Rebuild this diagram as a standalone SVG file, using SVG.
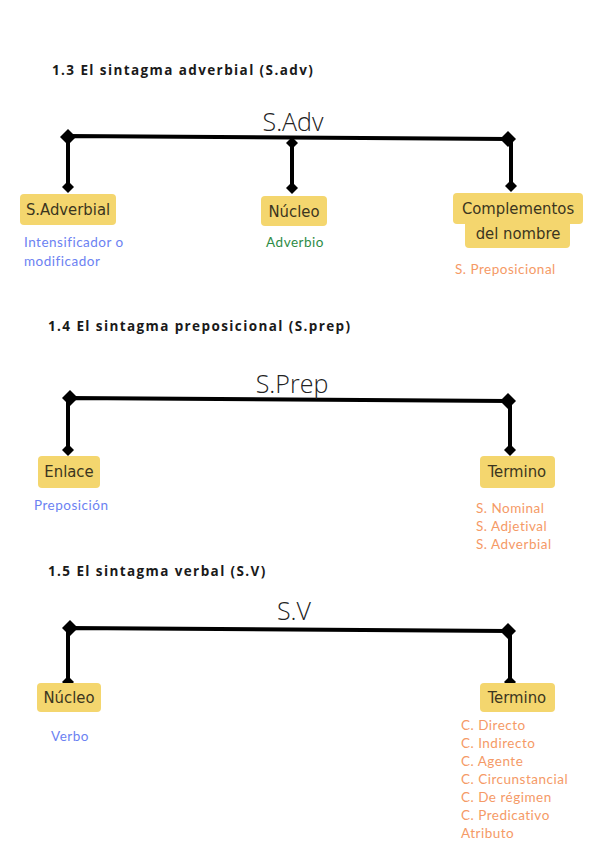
<svg xmlns="http://www.w3.org/2000/svg" width="600" height="848" viewBox="0 0 600 848">
<style>
.title{font-family:"Open Sans",Lato,sans-serif;font-weight:bold;font-size:13.5px;letter-spacing:1.4px;fill:#1a1a1a}
.head{font-family:"Open Sans",Lato,sans-serif;font-weight:300;font-size:25px;fill:#222;text-anchor:middle}
.box{fill:#F4D66E}
.bt{font-family:"DejaVu Sans Condensed","Open Sans",sans-serif;font-size:16.5px;fill:#3b3520;text-anchor:middle}
.blue{font-family:Lato,"Noto Sans",sans-serif;font-size:13.5px;fill:#6C82F2;letter-spacing:0.5px}
.green{font-family:Lato,"Noto Sans",sans-serif;font-size:13.5px;fill:#2E8B45;letter-spacing:0.5px}
.orange{font-family:Lato,"Noto Sans",sans-serif;font-size:13.5px;fill:#F59A66;letter-spacing:0.5px}
.ln{stroke:#000;stroke-width:4;fill:none}
</style>
<defs>
<polygon id="dl" points="0,-8 8,0 0,8 -8,0" fill="#000"/>
<polygon id="ds" points="0,-6 6,0 0,6 -6,0" fill="#000"/>
</defs>

<text class="title" x="52" y="75">1.3 El sintagma adverbial (S.adv)</text>
<text class="title" x="48" y="331">1.4 El sintagma preposicional (S.prep)</text>
<text class="title" x="48" y="576">1.5 El sintagma verbal (S.V)</text>

<g id="connectors">
<!-- S.Adv -->
<path class="ln" d="M68,136 L508,139 M68,137 V187 M292,143 V188 M511,139 V186"/>
<use href="#dl" x="68" y="137"/>
<use href="#ds" x="292" y="143"/>
<use href="#dl" x="508" y="139"/>
<use href="#ds" x="68" y="187"/>
<use href="#ds" x="292" y="188"/>
<use href="#ds" x="511" y="186"/>
<!-- S.Prep -->
<path class="ln" d="M70,398 L508,401 M68,398 V450 M510,401 V450"/>
<use href="#dl" x="70" y="398"/>
<use href="#dl" x="508" y="401"/>
<use href="#ds" x="68" y="450"/>
<use href="#ds" x="510" y="450"/>
<!-- S.V -->
<path class="ln" d="M70,628 L508,631 M68,628 V682 M510,631 V682"/>
<use href="#dl" x="70" y="628"/>
<use href="#dl" x="508" y="631"/>
<use href="#ds" x="68" y="682"/>
<use href="#ds" x="510" y="682"/>
</g>

<g id="sadv">
<text class="head" x="293" y="131">S.Adv</text>
</g>
<g id="sadverbial">
<rect class="box" x="20" y="194" width="96" height="31" rx="4"/>
<text class="bt" x="68" y="215">S.Adverbial</text>
<text class="blue" x="24" y="247">Intensificador o</text>
<text class="blue" x="24" y="266">modificador</text>
</g>
<g id="nucleo1">
<rect class="box" x="261" y="196" width="66" height="30" rx="4"/>
<text class="bt" x="294" y="217">Núcleo</text>
<text class="green" x="295" y="247" text-anchor="middle">Adverbio</text>
</g>
<g id="complementos">
<rect class="box" x="453" y="193" width="130" height="31" rx="4"/>
<rect class="box" x="465" y="218" width="105" height="30" rx="4"/>
<text class="bt" x="518" y="214">Complementos</text>
<text class="bt" x="518" y="239">del nombre</text>
<text class="orange" x="455" y="274">S. Preposicional</text>
</g>

<g id="sprep">
<text class="head" x="292" y="393">S.Prep</text>
</g>
<g id="enlace">
<rect class="box" x="38" y="456" width="62" height="32" rx="4"/>
<text class="bt" x="69" y="477">Enlace</text>
<text class="blue" x="34" y="510">Preposición</text>
</g>
<g id="termino1">
<rect class="box" x="480" y="456" width="75" height="32" rx="4"/>
<text class="bt" x="517" y="477">Termino</text>
<text class="orange" x="476" y="513">S. Nominal</text>
<text class="orange" x="476" y="531">S. Adjetival</text>
<text class="orange" x="476" y="549">S. Adverbial</text>
</g>

<g id="sv">
<text class="head" x="294" y="620">S.V</text>
</g>
<g id="nucleo2">
<rect class="box" x="37" y="683" width="64" height="29" rx="4"/>
<text class="bt" x="69" y="703">Núcleo</text>
<text class="blue" x="70" y="741" text-anchor="middle">Verbo</text>
</g>
<g id="termino2">
<rect class="box" x="480" y="683" width="75" height="29" rx="4"/>
<text class="bt" x="517" y="703">Termino</text>
<text class="orange" x="461" y="730">C. Directo</text>
<text class="orange" x="461" y="748">C. Indirecto</text>
<text class="orange" x="461" y="766">C. Agente</text>
<text class="orange" x="461" y="784">C. Circunstancial</text>
<text class="orange" x="461" y="802">C. De régimen</text>
<text class="orange" x="461" y="820">C. Predicativo</text>
<text class="orange" x="461" y="838">Atributo</text>
</g>
</svg>
